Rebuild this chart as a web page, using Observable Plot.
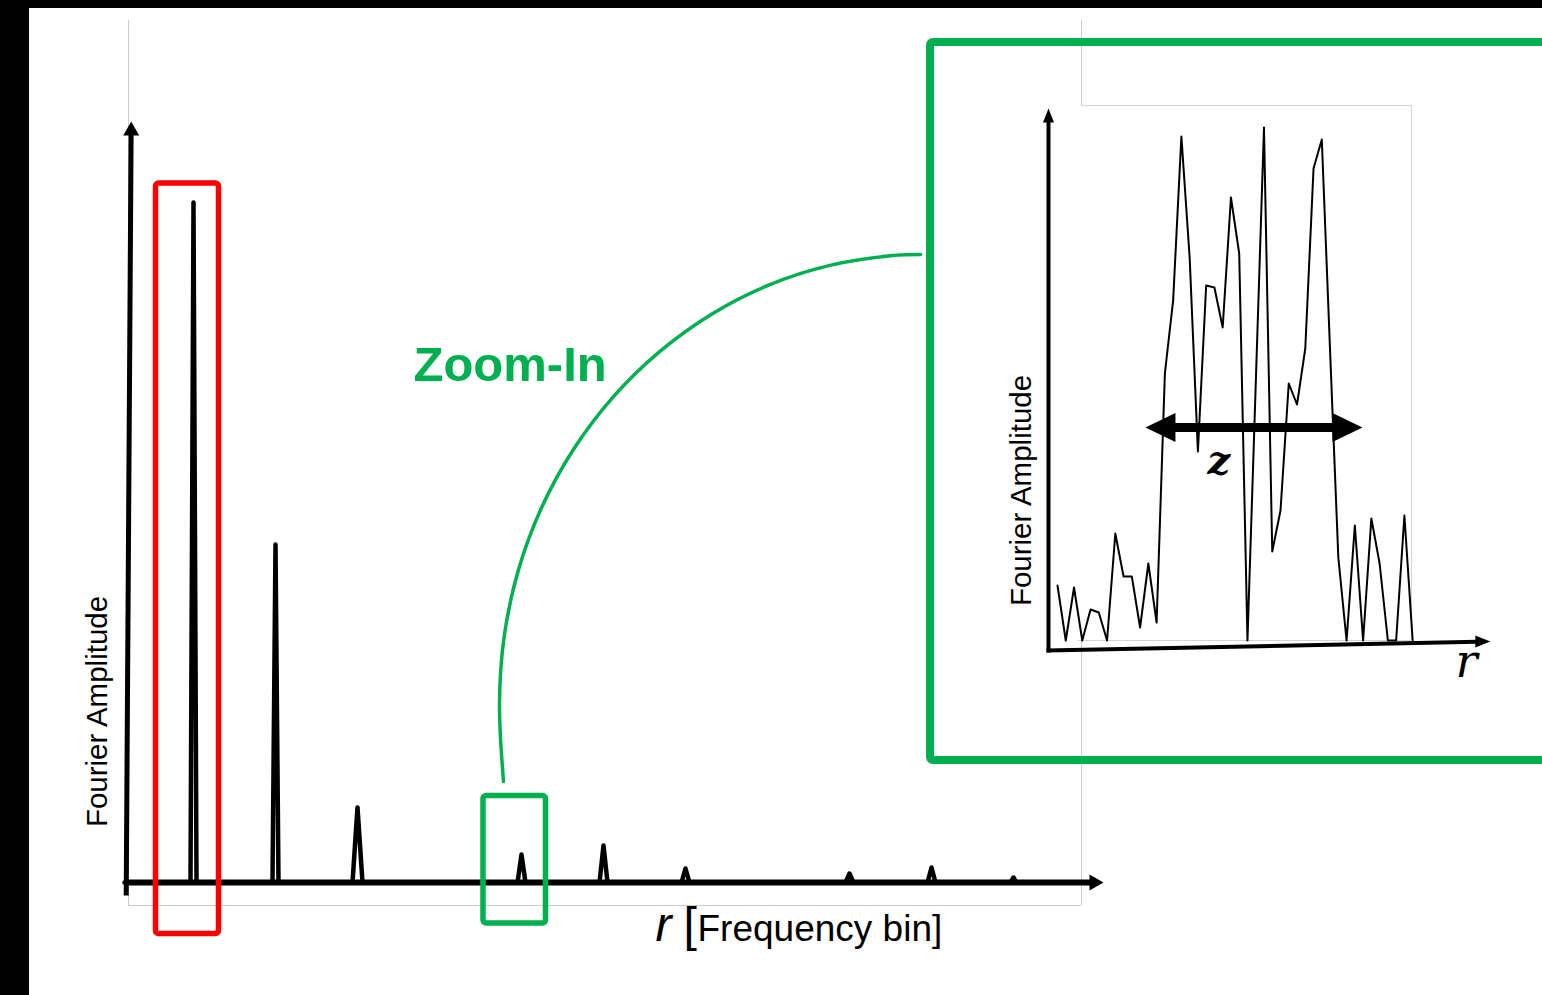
<!DOCTYPE html>
<html><head><meta charset="utf-8">
<script src="https://cdn.jsdelivr.net/npm/d3@7"></script>
<script src="https://cdn.jsdelivr.net/npm/@observablehq/plot@0.6"></script>
<style>
html,body{margin:0;padding:0;background:#fff;width:1542px;height:995px;overflow:hidden;}
#wrap{position:relative;width:1542px;height:995px;}
#main{position:absolute;left:0;top:0;width:1542px;height:995px;}
#inset{position:absolute;left:990px;top:90px;width:520px;height:600px;}
.band{position:absolute;background:#000;z-index:10;}
</style></head><body>
<div id="wrap">
  <div id="main"></div>
  <div id="inset"></div>
  <div class="band" style="left:0;top:0;width:1542px;height:8px"></div>
  <div class="band" style="left:0;top:0;width:29px;height:995px"></div>
</div>
<script>
// ---------- data ----------
// main spectrum: harmonic peaks (frequency bin, Fourier amplitude, line width in bins)
const peakBins   = [65, 147, 229, 393, 475, 557, 721, 803, 885];
const peakAmps   = [680, 338, 75, 28, 37, 14, 9, 15, 5];
const peakWidths = [3, 3, 5, 4, 4, 4, 4, 4, 3];

// zoomed-in region: amplitude per bin
const insetAmp = [55, 0, 53, 0, 31, 28, 0, 107, 64, 64, 13, 77, 18, 267, 340, 504, 383, 189,
                  355, 353, 313, 443, 387, 0, 256, 513, 89, 130, 257, 236, 292, 472, 501, 290,
                  83, 0, 115, 0, 122, 77, 0, 0, 125, 0];

// zoom connector arc (main-chart units)
const arcR = [375, 371, 375.8, 389.9, 413.1, 444.9, 484.5, 531.1, 583.5, 640.7, 701.4, 764.1, 792];
const arcA = [101, 180, 247.0, 312.4, 374.9, 433.0, 485.4, 530.9, 568.6, 597.6, 617.1, 626.9, 628];

// labels
const yLabel = "Fourier Amplitude";
const xSymbol = "r";
const xUnit = "Frequency bin]";
const zoomLabel = "Zoom-In";
const widthSymbol = "z";

// ---------- helpers ----------
const green = "#00b050";
const sans = "'Liberation Sans', Arial, Helvetica, sans-serif";
const serif = "'DejaVu Serif', 'Liberation Serif', serif";

function head(dir, L, W) {
  return {draw(ctx) {
    ctx.moveTo(0, 0);
    if (dir === "up") { ctx.lineTo(-W / 2, L); ctx.lineTo(W / 2, L); }
    else if (dir === "right") { ctx.lineTo(-L, -W / 2); ctx.lineTo(-L, W / 2); }
    else { ctx.lineTo(L, -W / 2); ctx.lineTo(L, W / 2); }
    ctx.closePath();
  }};
}

const spectrum = [{r: -4, a: 0}];
peakBins.forEach((b, i) => {
  spectrum.push({r: b - peakWidths[i], a: 0}, {r: b, a: peakAmps[i]}, {r: b + peakWidths[i], a: 0});
});
spectrum.push({r: 962, a: 0});

const arc = arcR.map((r, i) => ({r, a: arcA[i]}));
const insetData = insetAmp.map((a, i) => ({bin: i, a}));

// ---------- main chart ----------
const main = Plot.plot({
  width: 1542, height: 995,
  marginLeft: 128, marginRight: 461, marginTop: 20, marginBottom: 90,
  x: {domain: [0, 953], axis: null},
  y: {domain: [-23, 862], axis: null},
  style: {background: "white", overflow: "visible", maxWidth: "none"},
  marks: [
    Plot.ruleX([0, 953], {y1: -23, y2: 862, stroke: "#cccccc", strokeWidth: 1}),
    Plot.ruleY([-23], {x1: 0, x2: 953, stroke: "#cccccc", strokeWidth: 1}),
    Plot.line(arc, {x: "r", y: "a", curve: "catmull-rom", stroke: green, strokeWidth: 3.5}),
    Plot.rect([0], {x1: 802, x2: 1432, y1: 122, y2: 840, fill: "none", stroke: green, strokeWidth: 8, rx: 3}),
    Plot.link([0], {x1: -4, y1: 0, x2: 962, y2: 0, stroke: "black", strokeWidth: 6}),
    Plot.link([0], {x1: -2.3, y1: -13, x2: 2.6, y2: 748, stroke: "black", strokeWidth: 5}),
    Plot.line(spectrum, {x: "r", y: "a", stroke: "black", strokeWidth: 4.5}),
    Plot.dot([0], {x: 975, y: 0, symbol: head("right", 14, 16), fill: "black", stroke: "none"}),
    Plot.dot([0], {x: 2.7, y: 761, symbol: head("up", 14, 16), fill: "black", stroke: "none"}),
    Plot.rect([0], {x1: 27.5, x2: 90.5, y1: -51.5, y2: 699, fill: "none", stroke: "#ff0000", strokeWidth: 5.5, rx: 3}),
    Plot.rect([0], {x1: 355, x2: 417.5, y1: -41, y2: 86.5, fill: "none", stroke: green, strokeWidth: 5.5, rx: 3}),
    Plot.text([zoomLabel], {x: 285, y: 502, text: d => d, fill: green, fontFamily: sans, fontWeight: "bold",
      fontSize: 49, textAnchor: "start", lineAnchor: "bottom"}),
    Plot.text([yLabel], {x: -31, y: 171, text: d => d, rotate: -90, fill: "black", fontFamily: sans,
      fontSize: 29.5, textAnchor: "middle", lineAnchor: "middle"}),
    Plot.text([xSymbol], {x: 527, y: -58, text: d => d, fill: "black", fontFamily: sans, fontStyle: "italic",
      fontSize: 48, textAnchor: "start", lineAnchor: "bottom"}),
    Plot.text(["["], {x: 555, y: -58, text: d => d, fill: "black", fontFamily: sans,
      fontSize: 48, textAnchor: "start", lineAnchor: "bottom"}),
    Plot.text([xUnit], {x: 569, y: -58, text: d => d, fill: "black", fontFamily: sans,
      fontSize: 37, textAnchor: "start", lineAnchor: "bottom"})
  ]
});
document.getElementById("main").appendChild(main);

// ---------- inset (zoom) chart ----------
const inset = Plot.plot({
  width: 520, height: 600,
  marginLeft: 91, marginRight: 99, marginTop: 15, marginBottom: 50,
  x: {domain: [2.906, 42.86], axis: null},
  y: {domain: [0, 535], axis: null},
  style: {background: "transparent", overflow: "visible", maxWidth: "none"},
  marks: [
    Plot.rect([0], {x1: 2.5, x2: 42.86, y1: 0, y2: 535, fill: "white"}),
    Plot.ruleY([535], {x1: 2.906, x2: 42.86, stroke: "#d4d4d4"}),
    Plot.ruleY([0], {x1: 2.5, x2: 42.86, stroke: "#d4d4d4"}),
    Plot.ruleX([42.86], {y1: 0, y2: 535, stroke: "#d4d4d4"}),
    Plot.line(insetData, {x: "bin", y: "a", stroke: "black", strokeWidth: 2}),
    Plot.link([0], {x1: -1.09, y1: -12, x2: -1.09, y2: 520, stroke: "black", strokeWidth: 4}),
    Plot.dot([0], {x: -1.09, y: 532, symbol: head("up", 14, 11), fill: "black", stroke: "none"}),
    Plot.link([0], {x1: -1.33, y1: -10, x2: 50.8, y2: -1.2, stroke: "black", strokeWidth: 4}),
    Plot.dot([0], {x: 52.4, y: -1, symbol: head("right", 15, 12), fill: "black", stroke: "none"}),
    Plot.link([0], {x1: 12.8, y1: 213, x2: 34.8, y2: 213, stroke: "black", strokeWidth: 9}),
    Plot.dot([0], {x: 10.65, y: 213, symbol: head("left", 30, 29), fill: "black", stroke: "none"}),
    Plot.dot([0], {x: 36.92, y: 213, symbol: head("right", 30, 29), fill: "black", stroke: "none"}),
    Plot.text([yLabel], {x: -4.36, y: 150, text: d => d, rotate: -90, fill: "black", fontFamily: sans,
      fontSize: 29.5, textAnchor: "middle", lineAnchor: "middle"}),
    Plot.text([widthSymbol], {x: 18.16, y: 167, text: d => d, fill: "black", fontFamily: serif,
      fontStyle: "italic", fontWeight: "bold", fontSize: 40, textAnchor: "start", lineAnchor: "bottom"}),
    Plot.text([xSymbol], {x: 48.2, y: -36, text: d => d, fill: "black", fontFamily: serif,
      fontStyle: "italic", fontSize: 46, textAnchor: "start", lineAnchor: "bottom"})
  ]
});
document.getElementById("inset").appendChild(inset);
</script>
</body></html>
